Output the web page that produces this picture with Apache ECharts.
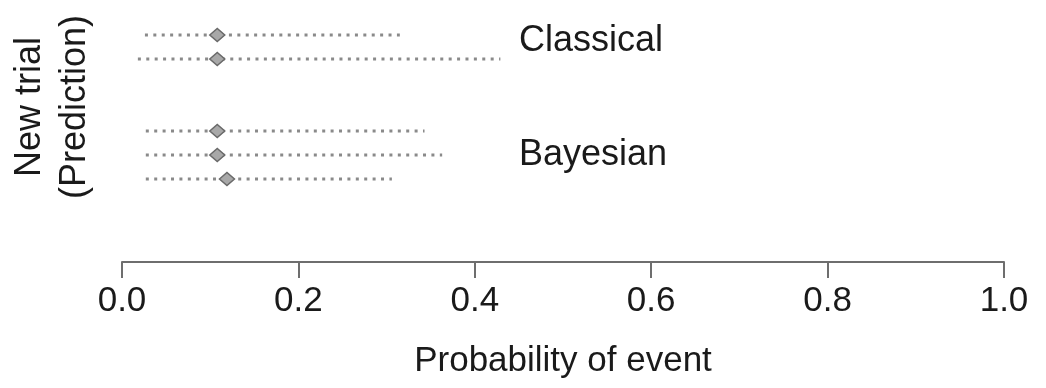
<!DOCTYPE html>
<html>
<head>
<meta charset="utf-8">
<script src="https://cdn.jsdelivr.net/npm/echarts@6/dist/echarts.min.js"></script>
<style>html,body{margin:0;padding:0;background:#fff}#c{width:1046px;height:388px}</style>
</head>
<body>
<div id="c"></div>
<script>
// Rows listed bottom to top
const rowNames = ['Bayesian 3', 'Bayesian 2', 'Bayesian 1', 'gap a', 'gap b', 'Classical 2', 'Classical 1'];
const rowIndex = [6, 5, 2, 1, 0];            // Classical 1, Classical 2, Bayesian 1..3
const lower    = [0.026, 0.018, 0.027, 0.027, 0.027];
const estimate = [0.108, 0.108, 0.108, 0.108, 0.119];
const upper    = [0.315, 0.429, 0.343, 0.363, 0.306];
const xTicks = [0, 0.2, 0.4, 0.6, 0.8, 1.0];
const groupLabels = ['Classical', 'Bayesian'];

const data = rowIndex.map((r, i) => [lower[i], estimate[i], upper[i], r]);

const chart = echarts.init(document.getElementById('c'));
const FONT = 'Liberation Sans, Arial, sans-serif';
chart.setOption({
  animation: false,
  grid: { left: 122, right: 42, top: 23, height: 168, containLabel: false, outerBoundsMode: 'none' },
  xAxis: {
    type: 'value', min: 0, max: 1, interval: 0.2, offset: 71,
    axisLine: { show: true, lineStyle: { color: '#6e6e6e', width: 2 } },
    axisTick: { show: true, length: 16, lineStyle: { color: '#6e6e6e', width: 2 } },
    axisLabel: { color: '#1a1a1a', fontSize: 35, fontFamily: FONT, margin: 22,
      formatter: v => v.toFixed(1) },
    splitLine: { show: false },
    name: 'Probability of event', nameLocation: 'middle', nameGap: 82,
    nameTextStyle: { color: '#1a1a1a', fontSize: 35, fontFamily: FONT }
  },
  yAxis: {
    type: 'category', data: rowNames,
    axisLine: { show: false }, axisTick: { show: false }, axisLabel: { show: false },
    name: 'New trial\n(Prediction)', nameLocation: 'middle', nameRotate: 90, nameGap: 24,
    nameTextStyle: { color: '#1a1a1a', fontSize: 36, fontFamily: FONT, lineHeight: 45 }
  },
  graphic: [
    { type: 'text', left: 519, top: 23, style: { text: groupLabels[0], fill: '#1a1a1a', font: '36px ' + FONT } },
    { type: 'text', left: 519, top: 137, style: { text: groupLabels[1], fill: '#1a1a1a', font: '36px ' + FONT } }
  ],
  series: [{
    type: 'custom',
    data: data,
    encode: { x: [0, 1, 2], y: 3 },
    renderItem: function (params, api) {
      const y = api.value(3);
      const p0 = api.coord([api.value(0), y]);
      const p1 = api.coord([api.value(2), y]);
      const pm = api.coord([api.value(1), y]);
      const w = 7.5, h = 6.5;
      return {
        type: 'group',
        children: [
          { type: 'line', shape: { x1: p0[0], y1: p0[1], x2: p1[0], y2: p1[1] },
            style: { stroke: '#8a8a8a', lineWidth: 3, lineDash: [3, 5.4] } },
          { type: 'polygon', shape: { points: [[pm[0] - w, pm[1]], [pm[0], pm[1] - h], [pm[0] + w, pm[1]], [pm[0], pm[1] + h]] },
            style: { fill: '#a8a8a8', stroke: '#6a6a6a', lineWidth: 1.5 } }
        ]
      };
    }
  }]
});
</script>
</body>
</html>
